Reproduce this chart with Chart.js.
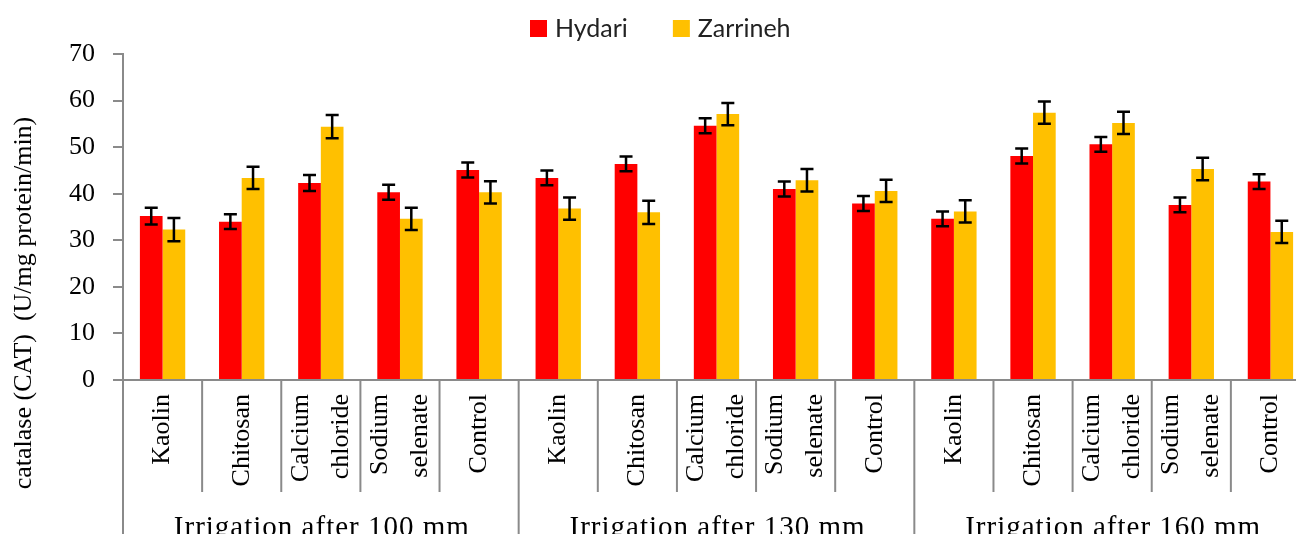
<!DOCTYPE html>
<html>
<head>
<meta charset="utf-8">
<title>Catalase activity</title>
<script src="https://cdn.jsdelivr.net/npm/chart.js@4.4.1/dist/chart.umd.min.js"></script>
<style>
    html, body { margin: 0; padding: 0; background: #fff; overflow: hidden; }
    canvas { display: block; }
</style>
</head>
<body>
<canvas id="cat-chart" width="1312" height="560"></canvas>
<script>
/* Catalase (CAT) activity, two cultivars, 5 treatments x 3 irrigation levels */

// ---- Data ----

const treatments = [["Kaolin"], ["Chitosan"], ["Calcium", "chloride"], ["Sodium", "selenate"], ["Control"]];
const irrigationGroups = ["Irrigation after 100 mm", "Irrigation after 130 mm", "Irrigation after 160 mm"];

const hydari = [35.2, 34.0, 42.3, 40.3, 45.1, 43.4, 46.4, 54.6, 41.0, 37.9, 34.6, 48.1, 50.6, 37.6, 42.6];
const hydariErr = [1.8, 1.6, 1.7, 1.6, 1.6, 1.6, 1.6, 1.6, 1.6, 1.6, 1.6, 1.6, 1.6, 1.6, 1.6];
const zarrineh = [32.3, 43.4, 54.4, 34.6, 40.3, 36.8, 36.0, 57.1, 42.9, 40.6, 36.2, 57.4, 55.2, 45.3, 31.8];
const zarrinehErr = [2.5, 2.4, 2.5, 2.4, 2.4, 2.4, 2.5, 2.4, 2.4, 2.4, 2.4, 2.4, 2.4, 2.4, 2.4];

const yTitle = "catalase (CAT)  (U/mg protein/min)";
const yMin = 0;
const yMax = 70;
const yStep = 10;

// ---- Style ----

const AXIS_GRAY = "#8a8a8a";
const SERIF = "'Liberation Serif', 'DejaVu Serif', serif";
const RED = "#ff0000";
const GOLD = "#ffc000";

Chart.defaults.font.family = SERIF;
Chart.defaults.color = "#000";

// one label per bar pair, e.g. "Kaolin | Irrigation after 100 mm"
const labels = [];
irrigationGroups.forEach((g) => {
    treatments.forEach((t) => labels.push(`${t.join(" ")} | ${g}`));
});

// ---- Plugins ----

const errorBars = {
    id: "errorBars",
    afterDatasetsDraw(chart) {
        const { ctx } = chart;
        const y = chart.scales.y;
        ctx.save();
        ctx.strokeStyle = "#000";
        ctx.lineWidth = 2.5;
        chart.data.datasets.forEach((ds, di) => {
            const meta = chart.getDatasetMeta(di);
            meta.data.forEach((bar, i) => {
                const v = ds.data[i];
                const e = ds.errors[i];
                const top = y.getPixelForValue(v + e);
                const bot = y.getPixelForValue(v - e);
                const cap = 6.5;
                ctx.beginPath();
                ctx.moveTo(bar.x, top);
                ctx.lineTo(bar.x, bot);
                ctx.moveTo(bar.x - cap, top);
                ctx.lineTo(bar.x + cap, top);
                ctx.moveTo(bar.x - cap, bot);
                ctx.lineTo(bar.x + cap, bot);
                ctx.stroke();
            });
        });
        ctx.restore();
    },
};

const groupedAxis = {
    id: "groupedAxis",
    afterDraw(chart) {
        const { ctx, chartArea } = chart;
        const x = chart.scales.x;
        const step = x.getPixelForValue(1) - x.getPixelForValue(0);
        const n = labels.length;
        const per = treatments.length;

        ctx.save();
        // separators
        ctx.strokeStyle = AXIS_GRAY;
        ctx.lineWidth = 2;
        for (let i = 0; i <= n; i++) {
            const bx = x.getPixelForValue(0) - step / 2 + i * step;
            const end = i % per === 0 ? chart.height : chartArea.bottom + 112;
            ctx.beginPath();
            ctx.moveTo(bx, chartArea.bottom);
            ctx.lineTo(bx, end);
            ctx.stroke();
        }

        // treatment labels, rotated
        ctx.fillStyle = "#000";
        ctx.font = `26px ${SERIF}`;
        ctx.textAlign = "right";
        ctx.textBaseline = "middle";
        for (let i = 0; i < n; i++) {
            const lines = treatments[i % per];
            const cx = x.getPixelForValue(i);
            ctx.save();
            ctx.translate(cx, chartArea.bottom + 14);
            ctx.rotate(-Math.PI / 2);
            lines.forEach((line, li) => {
                const off = (li - (lines.length - 1) / 2) * 40;
                ctx.fillText(line, 0, off);
            });
            ctx.restore();
        }

        // irrigation group labels
        ctx.textAlign = "center";
        ctx.textBaseline = "alphabetic";
        ctx.font = `29px ${SERIF}`;
        if ("letterSpacing" in ctx) ctx.letterSpacing = "1px";
        irrigationGroups.forEach((g, gi) => {
            const first = x.getPixelForValue(gi * per);
            const last = x.getPixelForValue(gi * per + per - 1);
            ctx.fillText(g, (first + last) / 2 + 1, chartArea.bottom + 156);
        });
        if ("letterSpacing" in ctx) ctx.letterSpacing = "0px";

        // y axis title
        ctx.font = `26px ${SERIF}`;
        ctx.textAlign = "center";
        ctx.textBaseline = "middle";
        ctx.translate(24, 303);
        ctx.rotate(-Math.PI / 2);
        ctx.fillText(yTitle, 0, 0);
        ctx.restore();
    },
};

const topLegend = {
    id: "topLegend",
    afterDraw(chart) {
        const { ctx } = chart;
        ctx.save();
        ctx.font = "25px Lato, 'Open Sans', sans-serif";
        ctx.textAlign = "left";
        ctx.textBaseline = "middle";
        let cx = 530;
        const cy = 28;
        chart.data.datasets.forEach((ds) => {
            ctx.fillStyle = ds.backgroundColor;
            ctx.fillRect(cx, cy - 8, 17, 17);
            ctx.fillStyle = "#222";
            ctx.fillText(ds.label, cx + 25, cy + 1);
            cx += 25 + ctx.measureText(ds.label).width + 45;
        });
        ctx.restore();
    },
};

// ---- Chart ----

function initChart() {
    const ctx = document.getElementById("cat-chart").getContext("2d");
    return new Chart(ctx, {
        type: "bar",
        data: {
            labels: labels,
            datasets: [
                { label: "Hydari", data: hydari, errors: hydariErr, backgroundColor: RED },
                { label: "Zarrineh", data: zarrineh, errors: zarrinehErr, backgroundColor: GOLD },
            ],
        },
        options: {
            responsive: false,
            animation: false,
            categoryPercentage: 0.573,
            barPercentage: 1,
            layout: { padding: { top: 54, right: 2, left: 0, bottom: 0 } },
            plugins: {
                legend: { display: false },
                tooltip: { enabled: false },
            },
            scales: {
                x: {
                    ticks: { display: false },
                    grid: { display: false },
                    border: { display: true, color: AXIS_GRAY, width: 2 },
                    afterFit: (s) => { s.height = 180; },
                },
                y: {
                    min: yMin,
                    max: yMax,
                    ticks: { stepSize: yStep, padding: 18, color: "#000", font: { size: 26 } },
                    grid: { drawOnChartArea: false, drawTicks: true, tickLength: 10, color: AXIS_GRAY, lineWidth: 2 },
                    border: { color: AXIS_GRAY, width: 2 },
                    afterFit: (s) => { s.width = 123; },
                },
            },
        },
        plugins: [errorBars, groupedAxis, topLegend],
    });
}

initChart();
</script>
</body>
</html>
